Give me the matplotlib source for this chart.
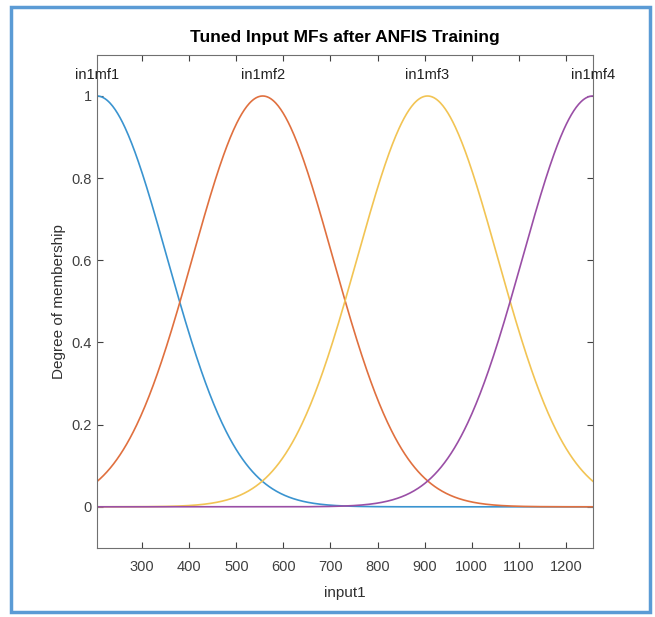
import numpy as np
import matplotlib.pyplot as plt
from matplotlib.patches import Rectangle

# gaussian MF parameters
mf_names = ['in1mf1', 'in1mf2', 'in1mf3', 'in1mf4']
mf_centers = [204, 556, 906, 1257]
mf_sigmas = [149, 149, 149, 149]
x_range = [204, 1257]
x_ticks = [300, 400, 500, 600, 700, 800, 900, 1000, 1100, 1200]
y_ticks = [0, 0.2, 0.4, 0.6, 0.8, 1]
colors = ['#3a94d0', '#e0703f', '#f2c454', '#9a4fa6']

plt.rcParams['font.family'] = ['Liberation Sans', 'DejaVu Sans']

fig = plt.figure(figsize=(6.55, 6.17), dpi=100)
fig.patches.append(Rectangle((0.017, 0.008), 0.975, 0.98, transform=fig.transFigure,
                             fill=False, edgecolor='#5b9bd5', linewidth=2.5))
ax = fig.add_axes([0.148, 0.112, 0.757, 0.799])

x = np.linspace(x_range[0], x_range[1], 600)
for name, c, s, col in zip(mf_names, mf_centers, mf_sigmas, colors):
    y = np.exp(-(x - c) ** 2 / (2 * s ** 2))
    ax.plot(x, y, color=col, lw=1.2)
    ax.text(c, 1.035, name, ha='center', va='bottom', fontsize=10.5, color='#222222')

ax.set_xlim(x_range)
ax.set_ylim(-0.1, 1.1)
ax.set_xticks(x_ticks)
ax.set_yticks(y_ticks)
ax.set_yticklabels(['0', '0.2', '0.4', '0.6', '0.8', '1'])
ax.tick_params(direction='in', top=True, right=True, labelsize=10.5,
               colors='#404040', length=4, width=0.8)
ax.tick_params(axis='x', pad=9)
for sp in ax.spines.values():
    sp.set_color('#707070')
ax.set_xlabel('input1', fontsize=11, color='#303030', labelpad=8)
ax.set_ylabel('Degree of membership', fontsize=11, color='#303030', labelpad=4)
ax.set_title('Tuned Input MFs after ANFIS Training', fontsize=12.5, fontweight='bold', pad=9)

fig.savefig('out.png', dpi=100)
